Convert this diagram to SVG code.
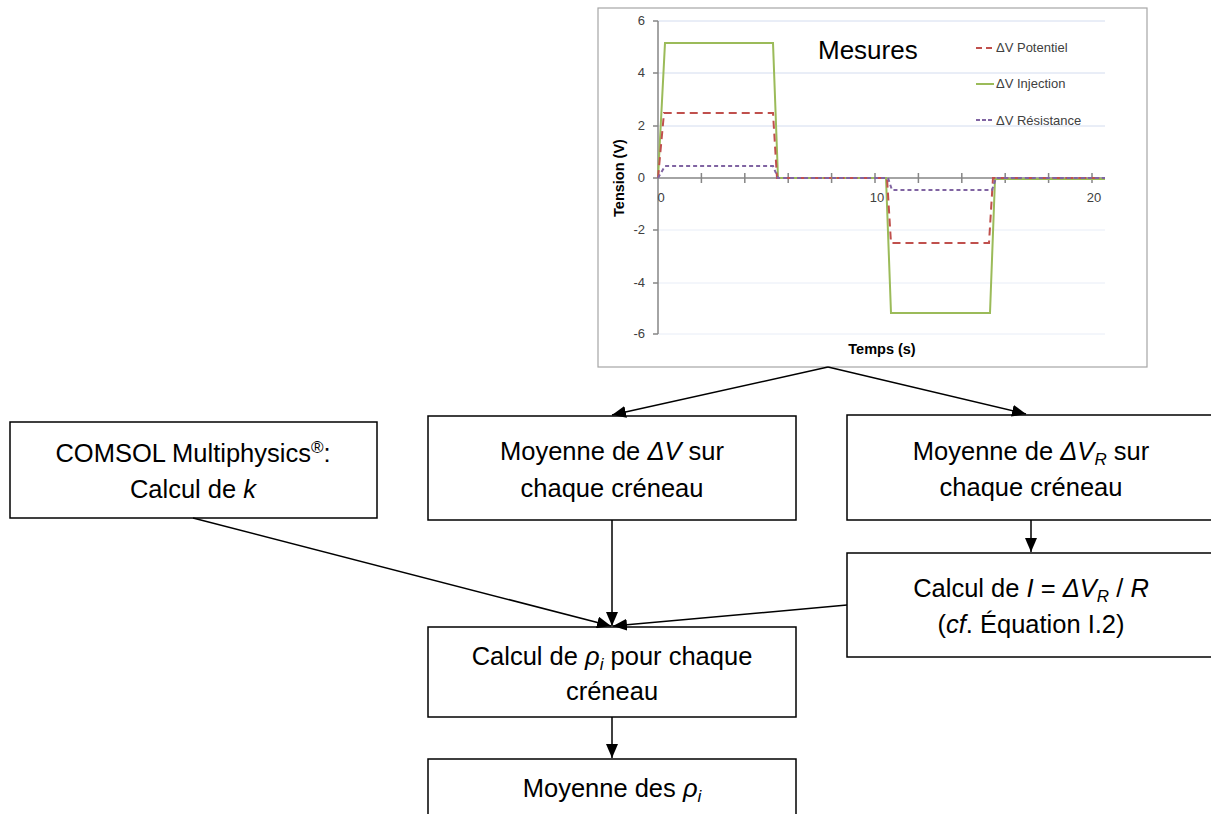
<svg xmlns="http://www.w3.org/2000/svg" width="1211" height="814" viewBox="0 0 1211 814">
<style>
.box{fill:#fff;stroke:#000;stroke-width:1.5}
.t{font-family:"Liberation Sans",Arial,sans-serif;font-size:25.5px;fill:#000;text-anchor:middle}
.i{font-style:italic}
.c{stroke:#000;stroke-width:1.5;fill:none;marker-end:url(#ah)}
.grid{stroke:#d3dcef;stroke-width:1}
.gridn{stroke:#e8edf7;stroke-width:1}
.ax{stroke:#868686;stroke-width:1.5;fill:none}
.tl{font-family:"Liberation Sans",Arial,sans-serif;font-size:13px;fill:#404040}
.lg{font-family:"Liberation Sans",Arial,sans-serif;font-size:13px;fill:#404040}
.at{font-family:"Liberation Sans",Arial,sans-serif;font-size:14.5px;font-weight:bold;fill:#000}
</style>
<defs>
<marker id="ah" viewBox="0 0 14 12" refX="14" refY="6" markerWidth="14" markerHeight="12" markerUnits="userSpaceOnUse" orient="auto">
<path d="M0,0 L14,6 L0,12 Z" fill="#000"/>
</marker>
</defs>

<g id="chart">
<rect x="598" y="8" width="549" height="359" fill="#fff" stroke="#a6a6a6" stroke-width="1.2"/>
<line class="grid" x1="658" y1="21" x2="1105" y2="21"/>
<line class="grid" x1="658" y1="73" x2="1105" y2="73"/>
<line class="grid" x1="658" y1="126" x2="1105" y2="126"/>
<line class="gridn" x1="658" y1="230" x2="1105" y2="230"/>
<line class="gridn" x1="658" y1="283" x2="1105" y2="283"/>
<line class="gridn" x1="658" y1="334" x2="1105" y2="334"/>
<path class="ax" d="M658,21 V334 M653,21 H658 M653,73 H658 M653,126 H658 M653,178 H658 M653,230 H658 M653,283 H658 M653,334 H658"/>
<path class="ax" d="M658,178 H1105 M701.4,173 V183 M744.8,173 V183 M788.2,173 V183 M831.6,173 V183 M875,173 V183 M918.4,173 V183 M961.8,173 V183 M1005.2,173 V183 M1048.6,173 V183 M1092,173 V183"/>
<g class="tl" text-anchor="end">
<text x="645" y="25">6</text>
<text x="645" y="77">4</text>
<text x="645" y="130">2</text>
<text x="645" y="182">0</text>
<text x="645" y="234">-2</text>
<text x="645" y="287">-4</text>
<text x="645" y="338">-6</text>
</g>
<g class="tl" text-anchor="middle">
<text x="661" y="202">0</text>
<text x="877" y="202">10</text>
<text x="1094" y="202">20</text>
</g>
<text class="at" transform="translate(624,178) rotate(-90)" text-anchor="middle">Tension (V)</text>
<text class="at" x="882" y="354" text-anchor="middle">Temps (s)</text>
<polyline fill="none" stroke="#9bbb59" stroke-width="2" points="658,178 665,43 773,43 778,178 886,178 891,313 990,313 995,179 1105,179"/>
<polyline fill="none" stroke="#c0504d" stroke-width="2" stroke-dasharray="8,5" points="658,178 664,113 773,113 777,178 887,178 891,243 989,243 993,178 1105,178"/>
<polyline fill="none" stroke="#8064a2" stroke-width="2" stroke-dasharray="4,3" points="658,178 665,166 773,166 778,178 888,178 892,190 992,190 996,178 1105,178"/>
<text x="818" y="59" font-family="Liberation Sans, Arial, sans-serif" font-size="26" fill="#000">Mesures</text>
<line x1="976" y1="48" x2="994" y2="48" stroke="#c0504d" stroke-width="2" stroke-dasharray="6,4"/>
<text class="lg" x="996" y="52">ΔV Potentiel</text>
<line x1="976" y1="84" x2="994" y2="84" stroke="#9bbb59" stroke-width="2"/>
<text class="lg" x="996" y="88">ΔV Injection</text>
<line x1="976" y1="120" x2="994" y2="120" stroke="#8064a2" stroke-width="2" stroke-dasharray="4,2"/>
<text class="lg" x="996" y="125">ΔV Résistance</text>
</g>

<g id="comsol">
<rect class="box" x="10" y="422" width="367" height="96"/>
<text class="t" x="193" y="462">COMSOL Multiphysics<tspan font-size="17" dy="-9">®</tspan><tspan dy="9">:</tspan></text>
<text class="t" x="193" y="498">Calcul de <tspan class="i">k</tspan></text>
</g>

<g id="moyV">
<rect class="box" x="428" y="416" width="368" height="104"/>
<text class="t" x="612" y="460">Moyenne de <tspan class="i">ΔV</tspan> sur</text>
<text class="t" x="612" y="497">chaque créneau</text>
</g>

<g id="moyVR">
<rect class="box" x="847" y="415" width="370" height="105"/>
<text class="t" x="1031" y="460">Moyenne de <tspan class="i">ΔV</tspan><tspan class="i" font-size="17" dy="5">R</tspan><tspan dy="-5"> sur</tspan></text>
<text class="t" x="1031" y="496">chaque créneau</text>
</g>

<g id="calcI">
<rect class="box" x="847" y="553" width="370" height="104"/>
<text class="t" x="1031" y="597">Calcul de <tspan class="i">I</tspan> = <tspan class="i">ΔV</tspan><tspan class="i" font-size="17" dy="5">R</tspan><tspan dy="-5"> / </tspan><tspan class="i">R</tspan></text>
<text class="t" x="1031" y="633">(<tspan class="i">cf</tspan>. Équation I.2)</text>
</g>

<g id="calcRho">
<rect class="box" x="428" y="627" width="368" height="90"/>
<text class="t" x="612" y="665">Calcul de <tspan class="i">ρ</tspan><tspan class="i" font-size="17" dy="5">i</tspan><tspan dy="-5"> pour chaque</tspan></text>
<text class="t" x="612" y="700">créneau</text>
</g>

<g id="moyRho">
<rect class="box" x="428" y="759" width="368" height="70"/>
<text class="t" x="612" y="797">Moyenne des <tspan class="i">ρ</tspan><tspan class="i" font-size="17" dy="5">i</tspan></text>
</g>

<g id="connectors">
<line class="c" x1="828" y1="367" x2="612" y2="415"/>
<line class="c" x1="828" y1="367" x2="1026" y2="414"/>
<line class="c" x1="612" y1="520" x2="612" y2="626"/>
<line class="c" x1="193" y1="518" x2="611" y2="626"/>
<line class="c" x1="847" y1="605" x2="613" y2="626"/>
<line class="c" x1="1031" y1="520" x2="1031" y2="552"/>
<line class="c" x1="612" y1="717" x2="612" y2="758"/>
</g>
</svg>
